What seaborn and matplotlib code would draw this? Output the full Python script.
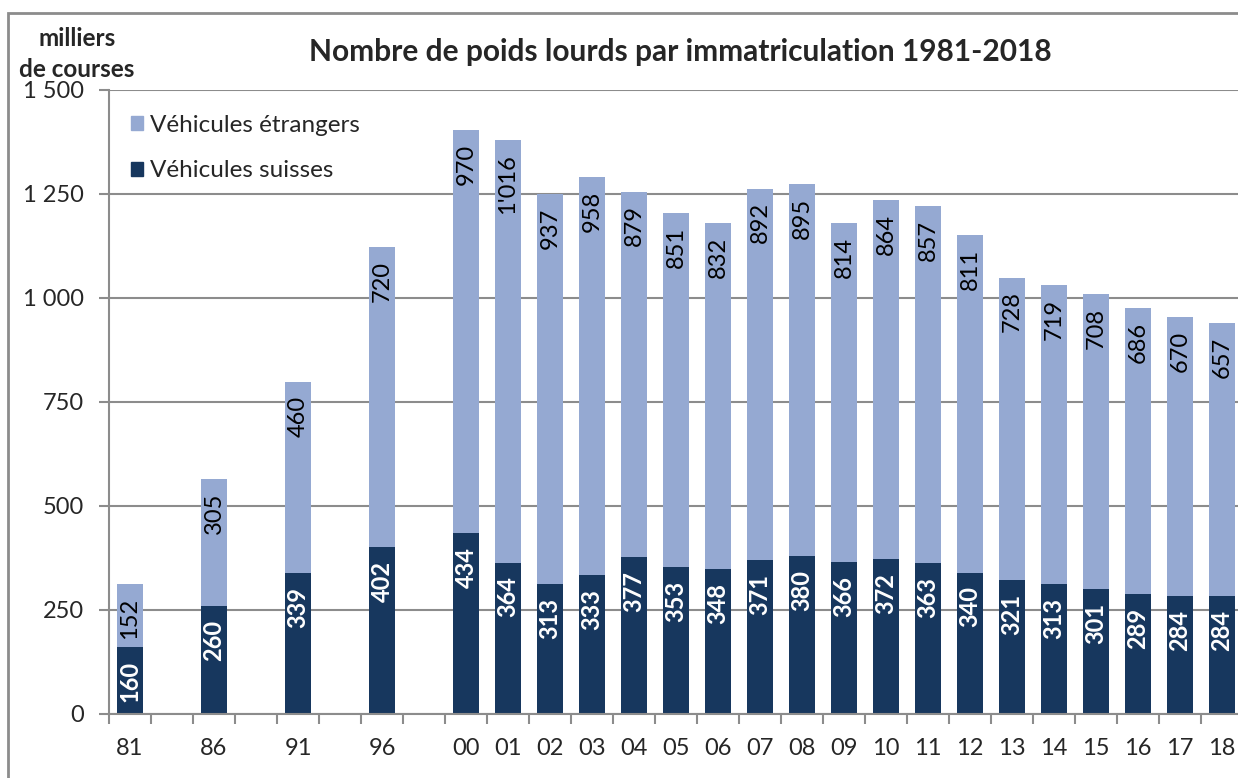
import matplotlib
matplotlib.use("Agg")
import matplotlib.pyplot as plt
from matplotlib.patches import Patch, Rectangle
from matplotlib.ticker import FixedLocator
import seaborn as sns
import numpy as np

# slots on the x axis: None = empty slot between the five-year steps
slots = ["81", None, "86", None, "91", None, "96", None,
         "00", "01", "02", "03", "04", "05", "06", "07", "08", "09",
         "10", "11", "12", "13", "14", "15", "16", "17", "18"]

swiss = [160, 260, 339, 402, 434, 364, 313, 333, 377, 353, 348, 371,
         380, 366, 372, 363, 340, 321, 313, 301, 289, 284, 284]
foreign = [152, 305, 460, 720, 970, 1016, 937, 958, 879, 851, 832, 892,
           895, 814, 864, 857, 811, 728, 719, 708, 686, 670, 657]
foreign_labels = ["152", "305", "460", "720", "970", "1'016", "937", "958",
                  "879", "851", "832", "892", "895", "814", "864", "857",
                  "811", "728", "719", "708", "686", "670", "657"]

yticks = [0, 250, 500, 750, 1000, 1250, 1500]
ytick_labels = ["0", "250", "500", "750", "1 000", "1 250", "1 500"]

dark = "#17375E"
light = "#95A9D2"
grey = "#8C8C8C"

sns.set_style("white")
plt.rcParams["font.family"] = ["Lato", "DejaVu Sans"]

W, H = 1238, 778
fig = plt.figure(figsize=(W / 100, H / 100), dpi=100)
ax = fig.add_axes([109 / W, 64 / H, (1243 - 109) / W, (714 - 90) / H])

pos = [i for i, s in enumerate(slots) if s is not None]
years = [s for s in slots if s is not None]
total = np.array(swiss) + np.array(foreign)

# stacked look: totals in light, swiss on top in dark
sns.barplot(x=pos, y=total, native_scale=True, color=light, width=0.6,
            errorbar=None, linewidth=0, saturation=1, ax=ax)
sns.barplot(x=pos, y=swiss, native_scale=True, color=dark, width=0.6,
            errorbar=None, linewidth=0, saturation=1, ax=ax)

for x, t, s, lab in zip(pos, total, swiss, foreign_labels):
    ax.annotate(lab, (x, t), xytext=(0, -10), textcoords="offset points",
                rotation=90, ha="center", va="top", fontsize=17, color="black")
    ax.annotate(str(s), (x, s), xytext=(0, -10), textcoords="offset points",
                rotation=90, ha="center", va="top", fontsize=17,
                color="white", fontweight="bold")

ax.set_xlim(-0.5, len(slots) - 0.5)
ax.set_ylim(0, 1500)
ax.set_xticks(pos)
ax.set_xticklabels(years, fontsize=17)
ax.xaxis.set_minor_locator(FixedLocator(np.arange(-0.5, len(slots), 1)))
ax.tick_params(axis="x", which="major", length=0, pad=17)
ax.tick_params(axis="x", which="minor", length=7, width=1.5, color=grey,
               direction="out", bottom=True)
ax.set_yticks(yticks)
ax.set_yticklabels(ytick_labels, fontsize=17)
ax.tick_params(axis="y", length=7, width=1.5, color=grey, direction="out",
               left=True, pad=11)
ax.set_xlabel("")
ax.set_ylabel("")

ax.grid(axis="y", color=grey, linewidth=1.5)
ax.set_axisbelow(True)
for side in ["top", "right"]:
    ax.spines[side].set_visible(False)
for side in ["left", "bottom"]:
    ax.spines[side].set_color(grey)
    ax.spines[side].set_linewidth(1.5)

handles = [Patch(color=light, label="Véhicules étrangers"),
           Patch(color=dark, label="Véhicules suisses")]
ax.legend(handles=handles, loc="upper left", bbox_to_anchor=(0.0, 0.995),
          frameon=False, fontsize=17.5, handlelength=0.5, handleheight=0.5,
          handletextpad=0.3, labelspacing=1.0)

fig.text(680 / W, 1 - 52 / H, "Nombre de poids lourds par immatriculation 1981-2018",
         ha="center", va="center", fontsize=21.5, fontweight="bold")
fig.text(77 / W, 1 - 54 / H, "milliers\nde courses", ha="center", va="center",
         fontsize=17.5, fontweight="bold", linespacing=1.45)

# outer frame (cut by the image edges on the right and bottom)
fig.add_artist(Rectangle((8 / W, -0.5), 2, 1.5 - 13 / H, transform=fig.transFigure,
                         fill=False, edgecolor=grey, linewidth=2))

fig.savefig("out.png", dpi=100)
